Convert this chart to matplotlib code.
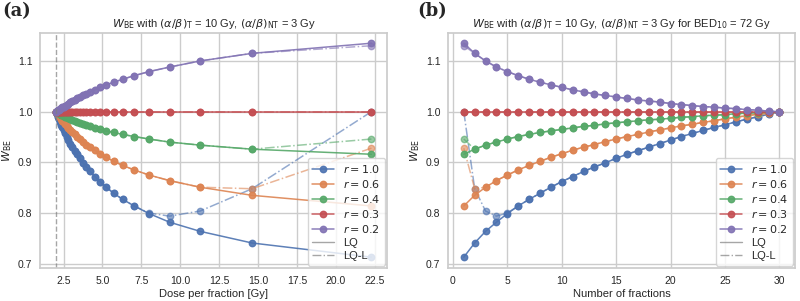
import matplotlib
matplotlib.use("Agg")
import matplotlib.pyplot as plt
from matplotlib.lines import Line2D
import seaborn as sns

sns.set_theme(style="whitegrid")
plt.rcParams["font.family"] = ["Liberation Sans", "DejaVu Sans"]

# number of fractions and matching dose per fraction (BED10 = 72 Gy)
n_fractions = list(range(1, 31))
dose_per_fraction = [22.295, 14.621, 11.279, 9.318, 8.000, 7.042, 6.307, 5.724, 5.247, 4.849,
                     4.511, 4.220, 3.966, 3.742, 3.544, 3.367, 3.207, 3.062, 2.931, 2.810,
                     2.700, 2.598, 2.504, 2.416, 2.335, 2.259, 2.188, 2.121, 2.059, 2.000]

r_values = [1.0, 0.6, 0.4, 0.3, 0.2]

# W_BE, LQ model
w_lq_10 = [0.713, 0.741, 0.764, 0.782, 0.799, 0.814, 0.827, 0.839, 0.851, 0.862,
           0.872, 0.882, 0.891, 0.899, 0.908, 0.916, 0.923, 0.930, 0.937, 0.944,
           0.951, 0.957, 0.963, 0.969, 0.974, 0.980, 0.985, 0.990, 0.995, 1.000]
w_lq_06 = [0.814, 0.835, 0.851, 0.864, 0.875, 0.885, 0.894, 0.902, 0.910, 0.917,
           0.924, 0.930, 0.935, 0.941, 0.946, 0.951, 0.955, 0.960, 0.964, 0.968,
           0.972, 0.975, 0.979, 0.982, 0.986, 0.989, 0.992, 0.995, 0.997, 1.000]
w_lq_04 = [0.916, 0.926, 0.934, 0.940, 0.946, 0.951, 0.955, 0.959, 0.962, 0.965,
           0.968, 0.971, 0.973, 0.976, 0.978, 0.980, 0.982, 0.984, 0.985, 0.987,
           0.989, 0.990, 0.992, 0.993, 0.994, 0.996, 0.997, 0.998, 0.999, 1.000]
w_lq_03 = [1.000] * 30
w_lq_02 = [1.135, 1.115, 1.100, 1.088, 1.079, 1.071, 1.064, 1.058, 1.053, 1.048,
           1.043, 1.039, 1.035, 1.032, 1.029, 1.026, 1.023, 1.021, 1.019, 1.016,
           1.014, 1.012, 1.010, 1.009, 1.007, 1.006, 1.004, 1.003, 1.001, 1.000]

# W_BE, LQ-L model (only the high dose fractions differ)
w_lql_10 = [1.000, 0.848, 0.804, 0.794, 0.800] + w_lq_10[5:]
w_lql_06 = [0.928, 0.848] + w_lq_06[2:]
w_lql_04 = [0.946] + w_lq_04[1:]
w_lql_03 = [1.000] * 30
w_lql_02 = [1.130] + w_lq_02[1:]

w_lq = [w_lq_10, w_lq_06, w_lq_04, w_lq_03, w_lq_02]
w_lql = [w_lql_10, w_lql_06, w_lql_04, w_lql_03, w_lql_02]
colors = sns.color_palette("deep")[:5]

fig = plt.figure(figsize=(8, 3.01), dpi=100)
ax1 = fig.add_axes([0.050, 0.110, 0.434, 0.782])
ax2 = fig.add_axes([0.560, 0.110, 0.434, 0.782])

for ax, xs in [(ax1, dose_per_fraction), (ax2, n_fractions)]:
    for r, lq, lql, c in zip(r_values, w_lq, w_lql, colors):
        ax.plot(xs, lq, "-o", color=c, lw=1.1, ms=4.6, alpha=0.9, label=f"$r = {r}$")
        ax.plot(xs, lql, "-.o", color=c, lw=1.1, ms=4.6, alpha=0.6)
    handles, labels = ax.get_legend_handles_labels()
    handles += [Line2D([], [], color="gray", lw=1, alpha=0.7),
                Line2D([], [], color="gray", lw=1, ls="-.", alpha=0.7)]
    labels += ["LQ", "LQ-L"]
    ax.legend(handles, labels, loc="lower right", fontsize=8, labelspacing=0.28,
              handlelength=2.0, borderaxespad=0.2, framealpha=0.8)
    ax.set_ylabel(r"$W_{\rm BE}$", fontsize=8, labelpad=3)
    ax.tick_params(labelsize=7.5, length=0)
    ax.tick_params(axis="x", pad=6)
    ax.tick_params(axis="y", pad=5.5)
    ax.set_yticks([0.7, 0.8, 0.9, 1.0, 1.1])

ax1.axvline(2, color="gray", ls="--", lw=1, alpha=0.7)
ax1.set_xticks([2.5, 5.0, 7.5, 10.0, 12.5, 15.0, 17.5, 20.0, 22.5])
ax1.set_xlabel("Dose per fraction [Gy]", fontsize=8, labelpad=2)
ax1.set_title(r"$W_{\rm BE}$ with $(\alpha/\beta)_{\rm T}$ = 10 Gy, $(\alpha/\beta)_{\rm NT}$ = 3 Gy",
              fontsize=8, pad=4)

ax2.set_xticks([0, 5, 10, 15, 20, 25, 30])
ax2.set_xlabel("Number of fractions", fontsize=8, labelpad=2)
ax2.set_title(r"$W_{\rm BE}$ with $(\alpha/\beta)_{\rm T}$ = 10 Gy, $(\alpha/\beta)_{\rm NT}$ = 3 Gy for BED$_{10}$ = 72 Gy",
              fontsize=8, pad=4)

fig.text(0.003, 0.993, "(a)", fontsize=13, fontweight="bold", family="DejaVu Serif", va="top")
fig.text(0.522, 0.993, "(b)", fontsize=13, fontweight="bold", family="DejaVu Serif", va="top")

fig.savefig("out.png", dpi=100)
